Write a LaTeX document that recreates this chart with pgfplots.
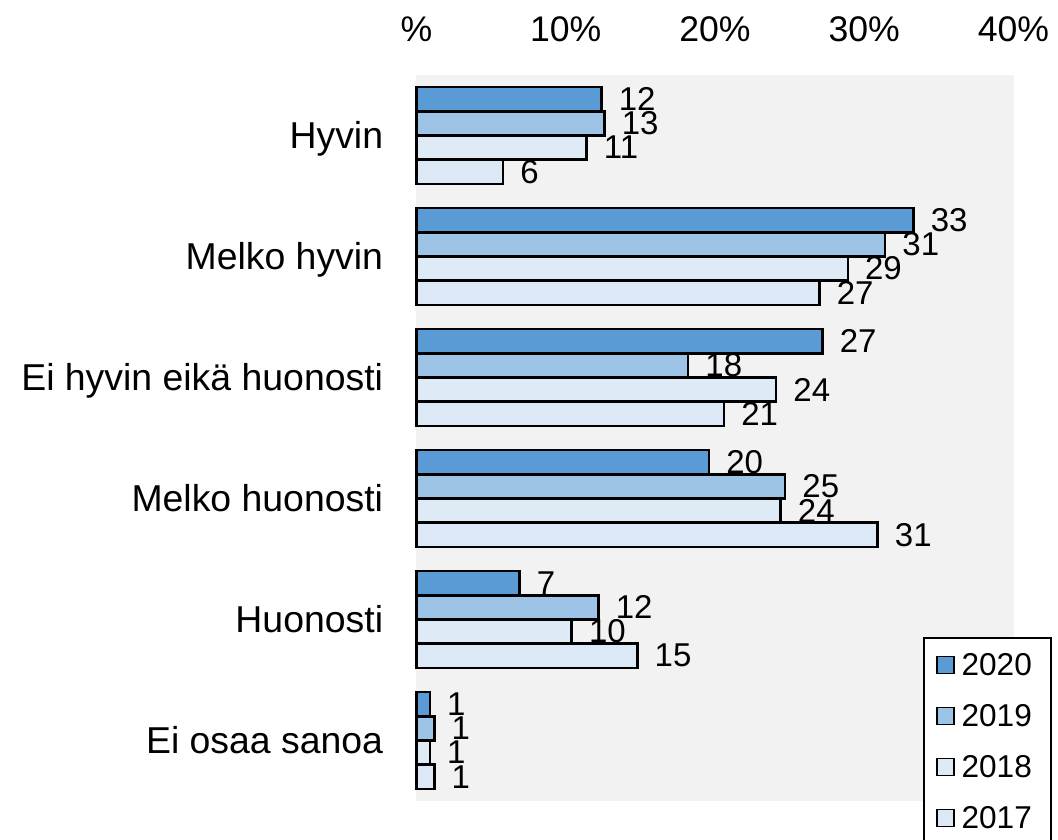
\documentclass[border=0pt]{standalone}
\usepackage{fontspec}
\setmainfont{Liberation Sans}
\usepackage{pgfplots}
\pgfplotsset{compat=1.18}
\definecolor{c2020}{HTML}{5B9BD5}
\definecolor{c2019}{HTML}{9DC3E6}
\definecolor{c2018}{HTML}{DEEAF6}
\definecolor{c2017}{HTML}{DCE8F5}
\definecolor{plotbg}{HTML}{F2F2F2}
\begin{document}
\begin{tikzpicture}
\begin{axis}[
  scale only axis,
  width=298.5pt, height=363pt,
  xbar, bar width=0.2,
  xmin=0, xmax=40,
  ymin=-0.5, ymax=5.5, y dir=reverse,
  axis background/.style={fill=plotbg},
  axis line style={draw=none},
  tick style={draw=none},
  major tick length=0pt,
  clip=false,
  xtick={0,10,20,30,40},
  xticklabels={\%,10\%,20\%,30\%,40\%},
  xticklabel pos=upper,
  xticklabel style={font=\fontsize{17.8}{20}\selectfont, anchor=base, inner sep=0pt, yshift=16.5pt},
  ytick={0,1,2,3,4,5},
  yticklabels={Hyvin,Melko hyvin,Ei hyvin eikä huonosti,Melko huonosti,Huonosti,Ei osaa sanoa},
  yticklabel style={font=\fontsize{18.7}{22}\selectfont, anchor=east, inner sep=0pt, text height=13.4pt, text depth=0pt, xshift=-16.5pt},
  every axis plot/.append style={draw=black, line width=1.3pt},
  point meta=explicit symbolic,
  nodes near coords,
  every node near coord/.append style={font=\fontsize{16.5}{19}\selectfont, anchor=west, inner sep=0pt, xshift=8pt, text=black},
  legend image code/.code={\draw[#1, line width=0.9pt] (0pt,-4.25pt) rectangle (8.5pt,4.25pt);},
  legend style={at={(0.848,0.226)}, anchor=north west, draw=black, line width=1pt, fill=white,
    font=\fontsize{15.8}{18}\selectfont, inner xsep=6pt, inner ysep=8pt, row sep=14.5pt,
    nodes={inner sep=0pt, inner xsep=3.5pt, text height=11pt, text depth=0pt}},
  legend cell align=left,
]
\addplot[fill=c2020, bar shift=-0.3] coordinates {(12.4,0) [12] (33.3,1) [33] (27.2,2) [27] (19.6,3) [20] (6.9,4) [7] (0.9,5) [1]};
\addlegendentry{2020}
\addplot[fill=c2019, bar shift=-0.1] coordinates {(12.6,0) [13] (31.4,1) [31] (18.2,2) [18] (24.7,3) [25] (12.2,4) [12] (1.2,5) [1]};
\addlegendentry{2019}
\addplot[fill=c2018, bar shift=0.1] coordinates {(11.4,0) [11] (28.9,1) [29] (24.1,2) [24] (24.4,3) [24] (10.4,4) [10] (0.9,5) [1]};
\addlegendentry{2018}
\addplot[fill=c2017, bar shift=0.3] coordinates {(5.8,0) [6] (27.0,1) [27] (20.6,2) [21] (30.9,3) [31] (14.8,4) [15] (1.2,5) [1]};
\addlegendentry{2017}
\end{axis}
\pgfresetboundingbox
\path[use as bounding box] ([xshift=-208.25pt,yshift=-19pt]current axis.south west) rectangle ([xshift=22.25pt,yshift=37.5pt]current axis.north east);
\end{tikzpicture}
\end{document}
